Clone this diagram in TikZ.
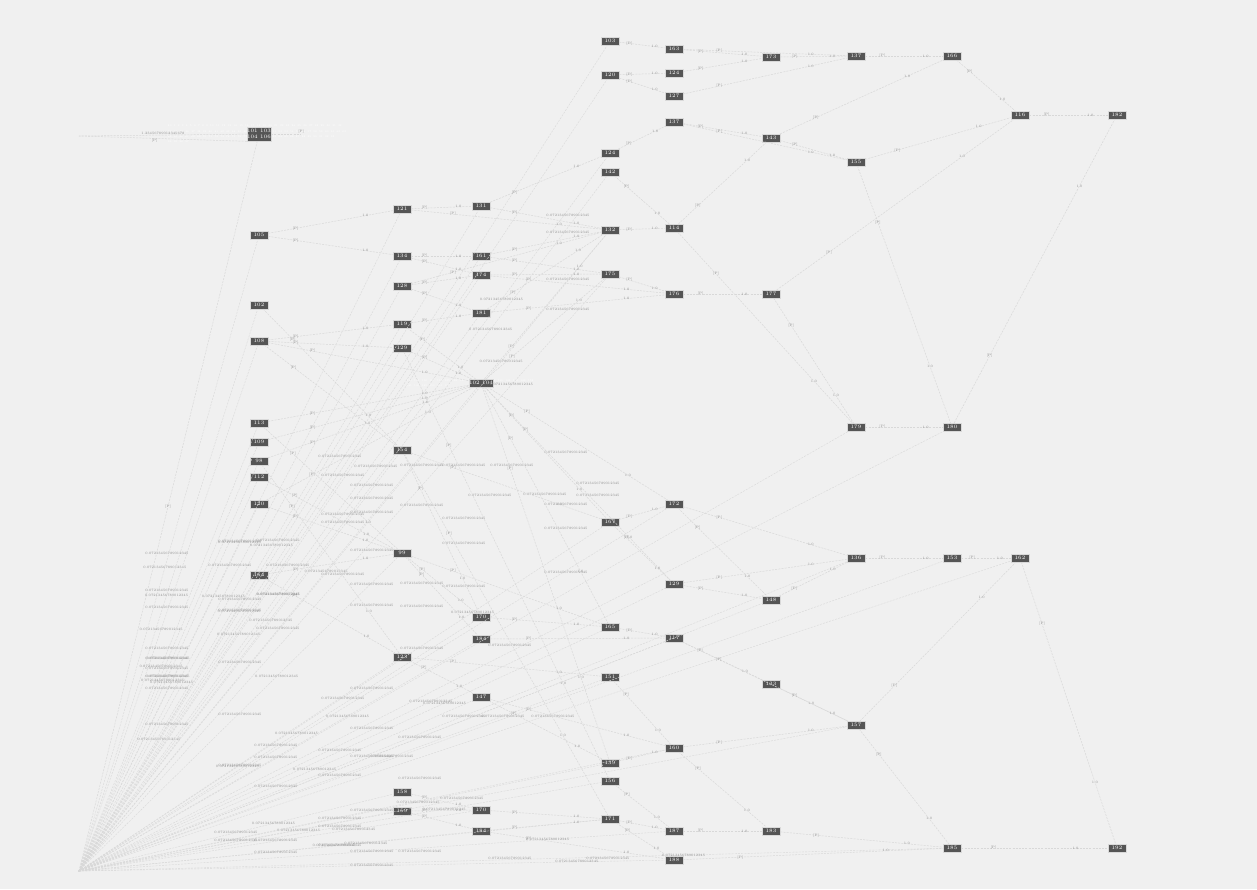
\documentclass[tikz,border=0pt]{standalone}
\definecolor{bg}{HTML}{F0F0F0}
\definecolor{nodefill}{HTML}{555555}
\definecolor{edgec}{HTML}{D8D8D8}
\definecolor{labc}{HTML}{8C8C8C}
\begin{document}
\begin{tikzpicture}[x=0.5pt,y=-0.5pt,
 nd/.style={draw=white!70!gray, line width=0.3pt, fill=nodefill, text=white, minimum width=9pt, minimum height=3.8pt, inner sep=0pt, font=\fontsize{2.6}{2.8}\selectfont},
 ed/.style={draw=edgec, line width=0.25pt, dash pattern=on 1pt off 0.6pt},
 fanline/.style={draw=edgec, line width=0.2pt, dash pattern=on 1pt off 0.6pt},
 lab/.style={text=labc, font=\fontsize{1.7}{1.9}\selectfont, inner sep=0.2pt},
 wlab/.style={text=white, font=\fontsize{1.3}{2.6}\selectfont, inner sep=0pt, align=left},
]
\fill[bg] (0,0) rectangle (1257,889);
\useasboundingbox (0,0) rectangle (1257,889);
\coordinate (O) at (79,871);
\coordinate (P) at (79,136);
% ---------- nodes ----------
\node[wlab] (TW) at (257,134) {80, 1, 2, 3, 4, 5, 6, 7, 8, 9, 10, 11, 12, 13, 14, 15, 16, 17, 18, 19, 20, 21, 22, 23, 24, 25, 26, 27, 28, 29, 30, 31, 32\\
33, 34, 35, 36, 37, 38, 39, 40, 41, 42, 43, 44, 45, 46, 47, 48, 49, 50, 51, 52, 53, 54, 55, 56, 57, 58, 59, 60, 61, 62, 63\\
64, 65, 66, 67, 68, 69, 70, 71, 72, 73, 74, 75, 76, 77, 78, 79, 81, 82, 83, 84, 85, 86, 87, 88, 89, 90, 91, 92, 93\\
94, 95, 96, 97};
\node[nd, minimum height=7pt, align=center] (T) at (259,134) {101 103\\104 106};
\node[wlab] (CW) at (470,383) {110, 111, 116, 117, 118, 125, 126, 130, 132, 135, 138, 139, 140, 144, 146, 149, 152\\141, 143, 145, 150, 151, 157};
\foreach \y/\t in {235/105,305/102,341/108,423/113,442/109,461/98,477/112,504/120,575/164}
  \node[nd] (A\y) at (259,\y) {\t};
\foreach \y/\t in {209/121,256/134,286/128,324/119,348/129,450/154,553/99,657/123,792/158,811/159}
  \node[nd] (B\y) at (402,\y) {\t};
\foreach \y/\t in {206/131,256/161,275/174,313/181,617/170,639/184,697/147,810/170,831/184}
  \node[nd] (C\y) at (481,\y) {\t};
\node[nd, minimum width=11pt] (C383) at (481,383) {102 104};
\foreach \y/\t in {41/103,75/120,153/124,172/142,230/132,274/175,522/167,627/165,677/151,763/139,781/156,819/171}
  \node[nd] (D\y) at (610,\y) {\t};
\foreach \y/\t in {49/163,73/124,96/127,122/137,228/114,294/176,504/172,584/129,638/117,748/160,831/187,860/188}
  \node[nd] (E\y) at (674,\y) {\t};
\foreach \y/\t in {57/173,138/143,294/177,600/148,684/133,831/183}
  \node[nd] (F\y) at (771,\y) {\t};
\foreach \y/\t in {56/137,162/155,427/179,558/136,725/157}
  \node[nd] (G\y) at (856,\y) {\t};
\foreach \y/\t in {56/166,427/180,558/153,848/185}
  \node[nd] (H\y) at (952,\y) {\t};
\foreach \y/\t in {115/116,558/162}
  \node[nd] (I\y) at (1020,\y) {\t};
\foreach \y/\t in {115/182,848/192}
  \node[nd] (J\y) at (1117,\y) {\t};
% ---------- top-left ----------
\draw[ed] (T) -- (P) node[pos=0.5,lab,above]{1.23456789012345678};
\draw[ed] (T.south west) -- (P) node[pos=0.55,lab,below]{[P]};
\draw[ed] (T.east) -- ++(30,0) coordinate (T1) node[lab,above]{[P]};
\draw[ed] (T) -- (O) node[pos=0.5,lab]{[P]};
% ---------- fan ----------
\foreach \t/\p/\l in {A235/0.48/1,A305/0.49/1,A341/0.46/1,A423/0.46/1,A442/0.5/1,A461/0.47/1,A477/0.5/1,A504/0.52/1,A575/0.45/1,
  B209/0.5/1,B256/0.45/1,B286/0.56/0,B324/0.6/1,B348/0.5/1,B450/0.6/1,B553/0.62/1,B657/0.5/1,B792/0.62/1,B811/0.7/1,
  C206/0.6/0,C256/0.55/0,C275/0.4/1,C313/0.5/1,C383/0.62/1,C617/0.55/1,C639/0.68/1,C697/0.6/1,C810/0.7/1,C831/0.65/1,
  D41/0.5/0,D75/0.5/0,D153/0.8/1,D172/0.78/1,D230/0.8/1,D274/0.82/1,D522/0.75/1,D627/0.7/1,D677/0.6/1,D763/0.65/1,D781/0.7/1,D819/0.55/1,
  E504/0.6/0,E584/0.6/1,E638/0.65/0,E748/0.7/0,E831/0.8/1,E860/0.85/1,F600/0.6/0,G427/0.5/0,H427/0.6/0,G558/0.55/0,H558/0.6/0,I558/0.6/0,G725/0.6/0,H848/0.7/1}
{
  \ifnum\l=1
   \draw[fanline] (O) -- (\t) node[pos=\p,lab]{0.07213456789012345};
  \else
   \draw[fanline] (O) -- (\t);
  \fi
}
% extra fan-side labels
\foreach \x/\y in {167/553,167/590,167/607,167/648,167/658,167/668,167/676,167/688,167/724,240/541,230/565,240/599,240/610,240/662,240/714,240/765,236/832,236/840,278/540,288/565,278/594,278/628,276/745,276/757,276/786,276/840,276/852,340/456,343/475,343/514,343/522,343/574,343/698,340/750,340/775,340/818,340/826,340/845,376/466,372/485,372/498,372/512,372/550,372/584,372/605,372/688,372/728,372/756,372/810,372/851,372/865,422/465,422/505,422/583,422/606,422/648,420/737,420/778,420/851,464/465,464/518,464/543,464/586,464/716,462/798,490/495,510/645,503/716,512/465,553/716,545/494,510/858,568/215,568/232,568/279,568/309,566/452,566/504,566/528,566/572,598/483,598/495,608/858}
  \node[lab] at (\x,\y) {0.07213456789012345};
% ---------- graph edges ----------
\foreach \a/\b in {A235/B209,A235/B256,A341/B324,A341/B348,A341/C383,A341/B450,A423/C383,A442/C383,A461/C383,A477/B553,A504/B553,A575/B553,A575/B657,A504/C383,A305/B450,A423/B553,A461/B657,
  B209/C206,B209/D230,B256/C256,B256/C275,B286/C275,B286/C313,B286/D230,B324/C313,B348/C383,B324/C383,
  C206/D153,C206/D230,C256/D230,C256/D274,C275/D274,C275/E294,C313/D230,C313/E294,
  C383/D230,C383/D274,C383/D522,C383/E504,C383/E584,C383/D627,C383/D763,
  B450/C617,B450/D522,B553/C617,B553/C639,B553/D627,B657/C697,B657/D677,B792/C810,B811/C831,B811/C810,B450/D819,B348/D781,
  C617/D627,C639/E638,C697/D763,C697/E748,C810/D819,C831/E860,C831/D819,
  D41/E49,D75/E73,D75/E96,D153/E122,D172/E228,D230/E228,D274/E294,D522/E504,D522/E584,D627/E638,D677/E748,D763/E748,D781/E831,D819/E831,D819/E860,
  E49/F57,E73/F57,E96/G56,E122/F138,E122/G162,E228/F138,E228/G427,E294/F294,E504/F600,E504/G558,E584/F600,E584/G558,E638/F684,E638/G725,E748/G725,E748/F831,E831/F831,E860/H848,E49/G56,
  F57/G56,F138/G162,F138/H56,F294/G427,F600/G558,F684/G725,F831/H848,F294/I115,
  G56/H56,G162/I115,G162/H427,G427/H427,G558/H558,G725/H848,G725/I558,
  H56/I115,H427/J115,H558/I558,H848/J848,I115/J115,I558/J848}
{
  \draw[ed] (\a) -- (\b) node[pos=0.22,lab]{[P]} node[pos=0.78,lab]{1.0};
}
\end{tikzpicture}
\end{document}
